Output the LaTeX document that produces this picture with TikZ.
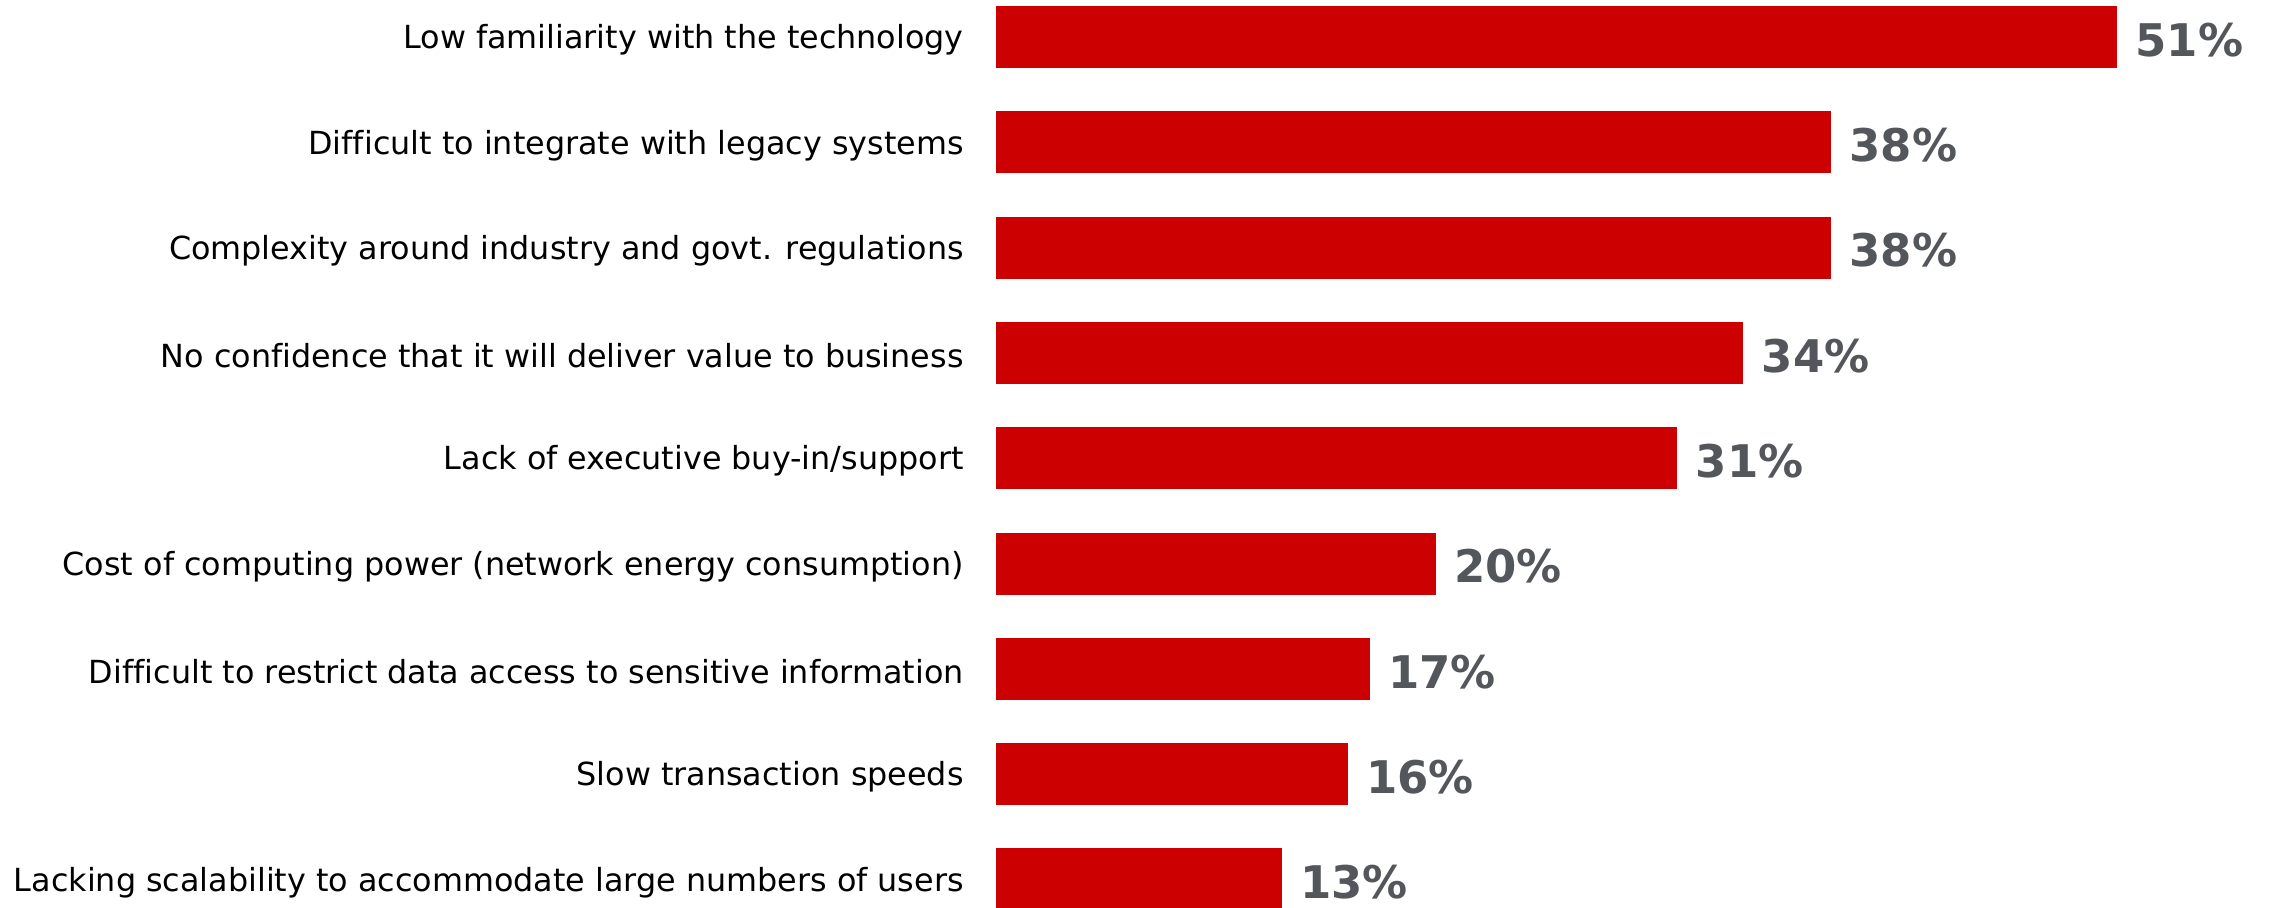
\documentclass[tikz,border=0pt]{standalone}
\usepackage{fontspec}
\setmainfont{DejaVu Sans}[Ligatures=CommonOff]
\definecolor{barred}{HTML}{CC0000}
\definecolor{pctgray}{HTML}{53565A}
\begin{document}
\begin{tikzpicture}[x=0.5pt,y=-0.5pt,
  bar/.style={fill=barred,draw=none},
  cat/.style={anchor=east,inner sep=0pt,font=\fontsize{15.9}{18}\selectfont,text=black},
  pct/.style={anchor=west,inner sep=0pt,font=\fontsize{22.5}{24}\selectfont\bfseries,text=pctgray}]
\useasboundingbox (0,0) rectangle (2274,907);
\clip (0,0) rectangle (2274,907);
\foreach \i/\v/\t in {0/51/{Low familiarity with the technology},
  1/38/{Difficult to integrate with legacy systems},
  2/38/{Complexity around industry and govt. regulations},
  3/34/{No confidence that it will deliver value to business},
  4/31/{Lack of executive buy-in/support},
  5/20/{Cost of computing power (network energy consumption)},
  6/17/{Difficult to restrict data access to sensitive information},
  7/16/{Slow transaction speeds},
  8/13/{Lacking scalability to accommodate large numbers of users}}{
  \pgfmathsetmacro{\top}{6+\i*105.3}
  \pgfmathsetmacro{\rgt}{996+\v*21.98}
  \fill[bar] (996,\top) rectangle (\rgt,\top+62) coordinate (b\i);
  \node[cat] (c\i) at (964,\top+34) {\t};
  \node[pct] (p\i) at (\rgt+18,\top+34) {\v\%};
}
\end{tikzpicture}
\end{document}
